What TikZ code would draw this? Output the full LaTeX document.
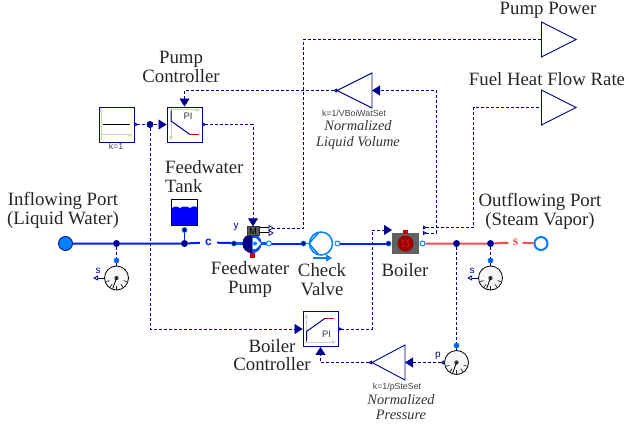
\documentclass[tikz,border=0pt]{standalone}
\usepackage{fontspec}
\setmainfont{Liberation Serif}
\setsansfont{Liberation Sans}
\usetikzlibrary{arrows.meta,shapes.geometric}
\definecolor{navy}{RGB}{0,0,140}
\definecolor{fluid}{RGB}{0,30,245}
\definecolor{steam}{RGB}{250,75,75}
\definecolor{dodger}{RGB}{0,127,255}
\definecolor{axisg}{RGB}{205,205,205}
\tikzset{
  x=1pt,y=-1pt,
  lbl/.style={font=\fontsize{18.8}{18.6}\selectfont,align=center,inner sep=0pt,text=black!85},
  note/.style={font=\itshape\fontsize{14.4}{15.2}\selectfont,align=center,inner sep=0pt,text=black!80},
  tiny/.style={font=\sffamily\fontsize{8.8}{9}\selectfont,inner sep=0pt,text=black!75},
  siglbl/.style={font=\sffamily\fontsize{10}{10}\selectfont,inner sep=0pt,text=navy},
  block/.style={draw=navy,fill=white,line width=0.9pt,minimum size=35pt,inner sep=0pt},
  sig/.style={draw=navy,line width=0.85pt,dash pattern=on 3pt off 2pt},
  sigboth/.style={sig,{Triangle[open,reversed,length=4pt,width=4pt,fill=white]}-{Triangle[length=8pt,width=10pt,fill=navy]}},
  sigin/.style={sig,-{Triangle[length=8pt,width=10pt,fill=navy]}},
  sigout/.style={sig,{Triangle[open,reversed,length=4pt,width=4pt,fill=white]}-},
  dot/.style={circle,fill=navy,minimum size=7pt,inner sep=0pt},
  portd/.style={circle,draw=dodger,fill=navy,line width=0.7pt,minimum size=5pt,inner sep=0pt},
  portw/.style={circle,draw=dodger,fill=white,line width=0.9pt,minimum size=5pt,inner sep=0pt},
  pwater/.style={draw=fluid,line width=2pt},
  psteam/.style={draw=steam,line width=2pt},
  ax/.style={draw=axisg,line width=1pt,-{Triangle[length=4pt,width=3pt,fill=axisg]}},
  dial/.style={circle,draw=black,fill=black!3,line width=0.8pt,minimum size=24pt,inner sep=0pt},
  gainb/.style={draw=navy,line width=0.9pt,fill=white},
  dialp/.pic={
    \fill[black!75] (0,0) circle (2.2);
    \draw[black,line width=0.8pt] (0,0) -- (-3.8,10.5);
    \foreach \a in {20,55,90,125,160}
      \draw[black!85,line width=0.7pt] (\a:7.5) -- (\a:11.5);
  }
}
\begin{document}
\begin{tikzpicture}
\useasboundingbox (0,0) rectangle (629,425);

% blocks
\node[block] (src) at (116.5,124.5) {};
\node[block] (pic1) at (184.5,124.5) {};
\node[block] (pic2) at (320.5,329) {};
\node[draw=none,fill=white,inner sep=0pt,minimum width=27pt,minimum height=27pt] (tank) at (184.5,212.5) {};
\node[fill=black!62,inner sep=0pt,minimum width=27pt,minimum height=21pt] (boiler) at (405.5,243.5) {};
\node[circle,fill=dodger!60!blue,inner sep=0pt,minimum size=19pt] (pump) at (252,243.5) {};
\node[circle,draw=dodger,line width=1.5pt,fill=white,inner sep=0pt,minimum size=23pt] (valve) at (321,243.5) {};
\node[dial] (d1) at (116.5,278) {};
\node[dial] (d2) at (490.5,278) {};
\node[dial] (d3) at (456.5,362.5) {};

% gains and outputs
\coordinate (g1in) at (372,90.5);
\coordinate (g1out) at (337,90.5);
\draw[gainb] (372,73) -- (372,108) -- (337,90.5) -- cycle;
\coordinate (g2in) at (405,362.5);
\coordinate (g2out) at (372,362.5);
\draw[gainb] (405,345) -- (405,380) -- (372,362.5) -- cycle;
\coordinate (o1) at (541.5,39.5);
\draw[gainb] (541.5,22) -- (541.5,57) -- (576,39.5) -- cycle;
\coordinate (o2) at (541.5,107.5);
\draw[gainb] (541.5,90) -- (541.5,125) -- (576,107.5) -- cycle;

% ports and junctions
\node[dot] (j0) at (150,124.5) {};
\node[dot] (ja) at (116.5,243.5) {};
\node[dot] (jb) at (184.5,243.5) {};
\node[dot] (jc) at (456.5,243.5) {};
\node[dot] (jd) at (490.5,243.5) {};
\node[portd] (ptank) at (184.5,230) {};
\node[portd,fill=dodger!70!navy] (ps1) at (116.5,260.5) {};
\node[portd,fill=dodger!70!navy] (ps2) at (490.5,260.5) {};
\node[portd,fill=dodger!70!navy] (ps3) at (456.5,345.5) {};
\node[portd] (va) at (303.5,243.5) {};
\node[portw] (vb) at (337.5,243.5) {};
\node[portd] (ba) at (388.5,243.5) {};
\node[portw] (bb) at (422.5,243.5) {};
\node[circle,draw=navy,fill=dodger,line width=0.8pt,inner sep=0pt,minimum size=14pt] (inp) at (65.5,243.5) {};
\node[circle,draw=dodger,fill=white,line width=2pt,inner sep=0pt,minimum size=13pt] (outp) at (541,243.5) {};
\node[inner sep=0pt,minimum width=17pt,minimum height=10pt,font=\sffamily\bfseries\fontsize{12}{12}\selectfont,text=fluid] (cl) at (208.5,242.5) {c};
\node[inner sep=0pt,minimum width=14pt,minimum height=10pt,font=\bfseries\fontsize{14}{14}\selectfont,text=steam] (sl) at (515.5,242.5) {s};

% fluid lines
\draw[pwater] (inp) -- (ja) -- (jb) -- (cl);
\draw[pwater] (cl) -- (pump);
\draw[pwater] (pump) -- (va);
\draw[pwater] (vb) -- (ba);
\draw[draw=fluid,line width=1pt] (ptank) -- (jb);
\draw[psteam] (bb) -- (jc) -- (jd) -- (sl);
\draw[psteam] (sl) -- (outp);
\draw[draw=dodger,line width=1.4pt] (va) -- (valve);

% pump body
\draw[dodger!70!blue,line width=3.5pt] (234,243.5) -- (269,243.5);
\node[portd] (pa) at (234,243.5) {};
\node[portw] (pb) at (269,243.5) {};
\fill[dodger!60!blue] (252,243.5) circle (9.5);
\fill[navy] (252,234) arc (-90:-270:9.5) -- cycle;
\fill[white] (252.5,238) -- (256,238) -- (261,243.5) -- (256,249) -- (252.5,249) -- cycle;
\fill[dodger] (255,243.5) circle (2);
\fill[red!80!black] (249.5,253) rectangle (254.5,257.5);
\node[fill=black!65,draw=black!80,inner sep=0pt,minimum width=12pt,minimum height=9pt,font=\sffamily\fontsize{9}{9}\selectfont,text=black] (mot) at (253,231) {M};

% signal lines
\draw[sigout] (src.east) -- (j0);
\draw[sigin] (j0) -- (pic1.west);
\draw[sigboth] (pic1.east) -| (mot.north);
\draw[sigin] (j0) |- (pic2.west);
\draw[sigboth] (pic2.east) -- ++(33.5,0) |- (392,230);
\draw[sigboth] (g2out) -| (pic2.south);
\draw[sigboth] (d3.west) -- (g2in);
\draw[sig] (jc) -- (ps3);
\draw[sigboth] (g1out) -| (pic1.north);
\draw[sigboth] (423,233) -- (436,233) |- (g1in);
\draw[sigout] (423,227.5) -- (473.5,227.5) |- (o2);
\draw[sigout] (269,228) -- (303.5,228) |- (o1);
\draw[sig] (ja) -- (ps1);
\draw[sig] (jd) -- (ps2);
\draw[navy,line width=0.8pt,-{Triangle[open,length=5pt,width=5pt,fill=white]}] (d1.west) -- ++(-11,0);
\draw[navy,line width=0.8pt,-{Triangle[open,length=5pt,width=5pt,fill=white]}] (d2.west) -- ++(-11,0);
\draw[navy,line width=0.8pt] (ps1) -- (d1.north);
\draw[navy,line width=0.8pt] (ps2) -- (d2.north);
\draw[navy,line width=0.8pt] (ps3) -- (d3.north);
\draw[black,line width=0.8pt] (259,227.2) -- (269,227.2);
\draw[black,line width=0.8pt] (259,232.5) -- (269,232.5);
\draw[navy,line width=0.7pt,fill=white] (269,225.5) -- (273,228) -- (269,230.5) -- cycle;
\draw[navy,line width=0.7pt,fill=white] (269,230.5) -- (273,233) -- (269,235.5) -- cycle;

% block icons
\draw[ax] (101,140) -- (101,108.5);
\draw[ax] (100.5,135) -- (132.5,135);
\draw[black,line width=1pt] (103,124.5) -- (130,124.5);
\draw[ax] (169,110) -- (200,110);
\draw[ax] (171,108.5) -- (171,140.5);
\draw[navy,line width=1pt] (171,111) -- (171,121) -- (190,134.5);
\draw[red!75!black,line width=1pt] (190,134.5) -- (199,134.5);
\node[font=\sffamily\fontsize{9.5}{9.5}\selectfont,inner sep=0pt,text=black!75] (pil1) at (188,116.5) {PI};
\draw[ax] (306,344) -- (306,313.5);
\draw[ax] (304.5,342) -- (336,342);
\draw[navy,line width=1pt] (306.5,341) -- (306.5,331.5) -- (325,318.3);
\draw[red!80!black,line width=1pt] (325,318.3) -- (334,318.3);
\node[font=\sffamily\fontsize{9.5}{9.5}\selectfont,inner sep=0pt,text=black!75] (pil2) at (326.5,334.7) {PI};

% tank
\fill[blue] (172,208) .. controls (175,206) and (178,206) .. (180,208) .. controls (183,206) and (187,206) .. (190,208) .. controls (192,206) and (195,206) .. (197,207) -- (197,225) -- (172,225) -- cycle;
\draw[black,line width=1.8pt] (171.5,199.5) rectangle (197.5,225.5);

% valve
\draw[dodger,line width=1.5pt] (319,232) -- (309,243.5) -- (319,255);
\draw[dodger,line width=1.5pt,-{Triangle[length=6pt,width=7pt,fill=dodger]}] (313,258) -- (332,258);

% boiler
\fill[red!60!black] (405.5,243.5) circle (8);
\fill[red!80!black] (402.5,229.5) rectangle (407.5,234);
\draw[red!90!white,line width=0.7pt] (404.5,239.5) .. controls (399,240) and (407,247) .. (401.5,247);
\draw[red!90!white,line width=0.7pt] (409.5,239.5) .. controls (404,240) and (412,247) .. (406.5,247);

% dial faces
\pic at (116.5,278) {dialp};
\pic at (490.5,278) {dialp};
\pic at (456.5,362.5) {dialp};

% texts
\node[lbl] (t1) at (181,67) {Pump\\Controller};
\node[lbl,anchor=west] (t2) at (165,167.5) {Feedwater};
\node[lbl,anchor=west] (t2b) at (165,186) {Tank};
\node[lbl] (t3) at (63,210.5) {Inflowing Port\\(Liquid Water)};
\node[lbl] (t4) at (540,211.5) {Outflowing Port\\(Steam Vapor)};
\node[lbl] (t5) at (250,279.5) {Feedwater\\Pump};
\node[lbl] (t6) at (322,279.5) {Check\\Valve};
\node[lbl] (t7) at (405,270) {Boiler};
\node[lbl] (t8) at (272,355) {Boiler\\Controller};
\node[lbl] (t9) at (548,10) {Pump Power};
\node[lbl] (t10) at (547,79) {Fuel Heat Flow Rate};
\node[note] (n1) at (358,135) {Normalized\\Liquid Volume};
\node[note] (n2) at (401,407) {Normalized\\Pressure};
\node[tiny] (k1) at (116,146.5) {k=1};
\node[tiny] (k2) at (354,113) {k=1/VBoiWatSet};
\node[tiny] (k3) at (397,387.5) {k=1/pSteSet};
\node[siglbl] (ly) at (236,226.5) {y};
\node[siglbl] (ls1) at (98,271) {s};
\node[siglbl] (ls2) at (472,271) {s};
\node[siglbl] (lp) at (438,356) {p};
\end{tikzpicture}
\end{document}
